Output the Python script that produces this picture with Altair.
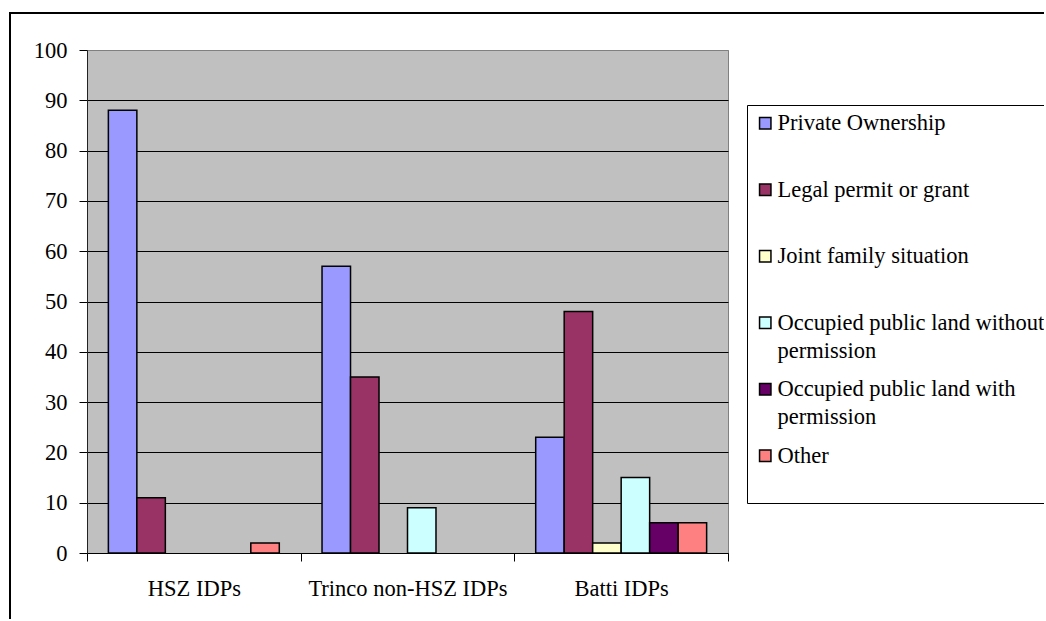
import altair as alt
import pandas as pd

groups = ["HSZ IDPs", "Trinco non-HSZ IDPs", "Batti IDPs"]
series = [
    "Private Ownership",
    "Legal permit or grant",
    "Joint family situation",
    "Occupied public land without permission",
    "Occupied public land with permission",
    "Other",
]
private = [88, 57, 23]
legal = [11, 35, 48]
joint = [0, 0, 2]
occ_without = [0, 9, 15]
occ_with = [0, 0, 6]
other = [2, 0, 6]
colors = ["#9999FF", "#993366", "#FFFFCC", "#CCFFFF", "#660066", "#FF8080"]
y_ticks = list(range(0, 101, 10))

rows = []
for s, vals in zip(series, [private, legal, joint, occ_without, occ_with, other]):
    for g, v in zip(groups, vals):
        rows.append({"group": g, "series": s, "value": v})
df = pd.DataFrame(rows)

FONT = "Liberation Serif"
FS = 22.5
DY = 7

label_expr = (
    "indexof(datum.label, 'Occupied') == 0 ? "
    "[replace(datum.label, ' permission', ''), 'permission'] : "
    "(datum.label == 'Other' ? ['Other', ' '] : datum.label)"
)

bars = (
    alt.Chart(df)
    .transform_filter("datum.value > 0")
    .mark_bar(stroke="black", strokeWidth=1.5)
    .encode(
        x=alt.X(
            "group:N",
            sort=groups,
            scale=alt.Scale(paddingInner=0, paddingOuter=0),
            axis=alt.Axis(
                title=None,
                labelAngle=0,
                tickBand="extent",
                tickSize=8,
                labelPadding=9,
                labelLimit=400,
                domainColor="black",
                tickColor="black",
                labelFontSize=FS,
                labelFont=FONT,
                labelColor="black",
                grid=False,
            ),
        ),
        xOffset=alt.XOffset(
            "series:N",
            sort=series,
            scale=alt.Scale(domain=series, paddingInner=0, paddingOuter=0.75),
        ),
        y=alt.Y(
            "value:Q",
            scale=alt.Scale(domain=[0, 100]),
            axis=alt.Axis(
                title=None,
                values=y_ticks,
                tickSize=8,
                labelPadding=12,
                labelOffset=-DY,
                domainColor="#222222",
                tickColor="black",
                gridColor=alt.condition("datum.value == 100", alt.value("#808080"), alt.value("black")),
                gridWidth=1,
                labelFontSize=FS,
                labelFont=FONT,
                labelColor="black",
            ),
        ),
        color=alt.Color(
            "series:N",
            sort=series,
            scale=alt.Scale(domain=series, range=colors),
            legend=alt.Legend(
                title=None,
                orient="none",
                legendX=660,
                legendY=55,
                padding=7,
                strokeColor="black",
                fillColor="white",
                symbolType="square",
                symbolSize=130,
                symbolStrokeColor="black",
                symbolStrokeWidth=1.5,
                labelFont=FONT,
                labelFontSize=FS,
                labelColor="black",
                labelBaseline="alphabetic",
                labelLimit=500,
                labelOffset=1,
                labelExpr=label_expr,
                rowPadding=15.5,
                gridAlign="all",
            ),
        ),
    )
)

frame = (
    alt.Chart(pd.DataFrame({"f": [0]}))
    .mark_rect(fill="transparent", stroke="black", strokeWidth=2)
    .encode(
        x=alt.value(-77),
        x2=alt.value(990),
        y=alt.value(-37),
        y2=alt.value(610),
    )
)

chart = (
    alt.layer(bars, frame)
    .properties(
        width=641,
        height=503,
        autosize=alt.AutoSizeParams(type="none"),
        padding={"left": 87, "top": 50, "right": 316, "bottom": 66},
        background="white",
    )
    .configure(
        font=FONT,
        style={"guide-label": {"lineHeight": 28, "dy": DY, "font": FONT}},
    )
    .configure_view(fill="#C0C0C0", stroke="#808080", strokeWidth=1)
)

chart.save("out.html", embed_options={"renderer": "svg", "actions": False})
